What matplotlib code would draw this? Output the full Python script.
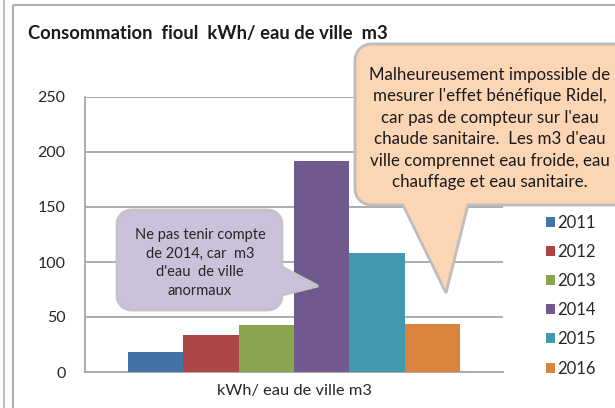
import numpy as np
import matplotlib.pyplot as plt
from matplotlib.patches import Polygon, Rectangle

plt.rcParams['font.family'] = ['Lato', 'DejaVu Sans']

years = ['2011', '2012', '2013', '2014', '2015', '2016']
valeurs = [18, 34, 43, 192, 108, 44]
couleurs = ['#4572A7', '#AA4643', '#89A54E', '#71588F', '#4198AF', '#DB843D']

titre = 'Consommation  fioul  kWh/ eau de ville  m3'
xlabel = 'kWh/ eau de ville m3'
note_orange = ("Malheureusement impossible de\n"
               "mesurer l'effet bénéfique Ridel,\n"
               "car pas de compteur sur l'eau\n"
               "chaude sanitaire.  Les m3 d'eau\n"
               "ville comprennet eau froide, eau\n"
               "chauffage et eau sanitaire.")
note_violet = ("Ne pas tenir compte\n"
               "de 2014, car  m3\n"
               "d'eau  de ville\n"
               "anormaux")

W, H = 615, 408
fig = plt.figure(figsize=(W / 100, H / 100), dpi=100)

# zone du graphique (pixels -> fraction)
ax = fig.add_axes([85 / W, 1 - 372 / H, (503 - 85) / W, (372 - 97) / H])
n = len(valeurs)
largeur = 0.794 / n
pos = -0.397 + largeur * (np.arange(n) + 0.5)
for i in range(n):
    ax.bar(pos[i], valeurs[i], width=largeur, color=couleurs[i], label=years[i], zorder=3)

ax.set_xlim(-0.5, 0.5)
ax.set_ylim(0, 250)
ax.set_yticks(np.arange(0, 251, 50))
ax.set_xticks([])
ax.grid(axis='y', color='#a6a6a6', linewidth=1.3, zorder=0)
for s in ['top', 'right']:
    ax.spines[s].set_visible(False)
for s in ['left', 'bottom']:
    ax.spines[s].set_color('#a6a6a6')
    ax.spines[s].set_linewidth(1.3)
ax.tick_params(axis='y', length=0, pad=14, labelsize=11.5, labelcolor='#262626')
ax.set_xlabel(xlabel, fontsize=11.8, color='#262626', labelpad=9)

fig.legend(loc='upper left', bbox_to_anchor=(539 / W, 1 - 208 / H), frameon=False,
           fontsize=12, handlelength=0.55, handleheight=0.55,
           handletextpad=0.15, labelspacing=0.79, borderaxespad=0, labelcolor='#262626')

fig.text(28 / W, 1 - 33 / H, titre, fontsize=13.2, fontweight='bold',
         color='#1a1a1a', va='center', ha='left')

# calque en pixels pour les bulles et le cadre
ov = fig.add_axes([0, 0, 1, 1], zorder=5)
ov.set_xlim(0, W)
ov.set_ylim(H, 0)
ov.axis('off')
ov.patch.set_alpha(0)

ov.add_patch(Rectangle((13, 5), W + 20, H + 20, fill=False, edgecolor='#b0b0b0', linewidth=1.5))
ov.plot([4, 4], [0, H], color='#b0b0b0', linewidth=1.2)


def arc(cx, cy, r, a0, a1):
    t = np.radians(np.linspace(a0, a1, 8))
    return list(zip(cx + r * np.cos(t), cy + r * np.sin(t)))


def bulle(x0, y0, x1, y1, r, bas=None, droite=None):
    pts = []
    pts += arc(x0 + r, y0 + r, r, 180, 270)
    pts += arc(x1 - r, y0 + r, r, 270, 360)
    if droite:
        pts += droite
    pts += arc(x1 - r, y1 - r, r, 0, 90)
    if bas:
        pts += bas
    pts += arc(x0 + r, y1 - r, r, 90, 180)
    return pts


p1 = bulle(355, 44, 640, 205, 16, bas=[(468, 205), (446, 293), (403, 205)])
ov.add_patch(Polygon(p1, closed=True, facecolor='#FCD5B5', edgecolor='#bdbdbd', linewidth=2))
ov.text(490, 128.5, note_orange, ha='center', va='center', fontsize=12.2,
        color='#1a1a1a', linespacing=1.42)

p2 = bulle(117, 210, 282, 310, 14, droite=[(282, 267), (318, 286), (282, 295)])
ov.add_patch(Polygon(p2, closed=True, facecolor='#CCC1DA', edgecolor='#c4c4c4', linewidth=2))
ov.text(200, 263, note_violet, ha='center', va='center', fontsize=10.5,
        color='#262626', linespacing=1.45)

fig.savefig('out.png', dpi=100)
